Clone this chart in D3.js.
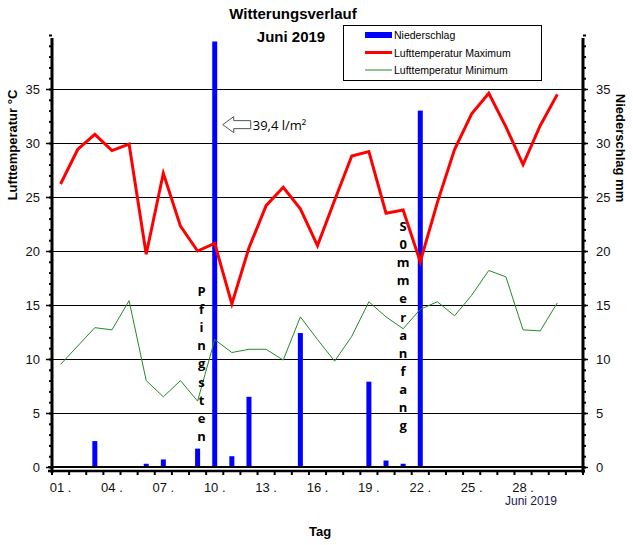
<!DOCTYPE html>
<html><head><meta charset="utf-8">
<script src="https://cdn.jsdelivr.net/npm/d3@7"></script>
<style>body{margin:0;background:#fff}svg{display:block;font-family:"Liberation Sans",Arial,sans-serif}</style>
</head><body><svg id="c" width="633" height="545"></svg>
<script>
const days = d3.range(1, 31);
const precip = [0,0,2.4,0,0,0.3,0.7,0,1.7,39.4,1.0,6.5,0,0,12.4,0,0,0,7.9,0.6,0.3,33.0,0,0,0,0,0,0,0,0];
const tMax = [26.2,29.4,30.8,29.3,29.9,19.7,27.2,22.3,20.0,20.7,15.1,20.3,24.2,25.9,23.9,20.5,24.7,28.8,29.2,23.5,23.8,19.0,24.5,29.4,32.7,34.6,31.5,28.0,31.6,34.5];
const tMin = [9.5,11.2,12.9,12.7,15.4,8.0,6.5,8.0,6.1,11.8,10.6,10.9,10.9,9.9,13.9,11.8,9.8,12.1,15.3,13.9,12.8,14.6,15.3,14.0,15.9,18.2,17.6,12.7,12.6,15.2];
const xLabelDays = [1,4,7,10,13,16,19,22,25,28];
const yTicks = [0,5,10,15,20,25,30,35];

const svg = d3.select("#c");
const L = 52, R = 583, B = 467, T = 35;
const x = d3.scaleBand().domain(d3.range(1, 32)).range([L, R]).paddingInner(0).paddingOuter(0);
const y = d3.scaleLinear().domain([0, 40]).range([B, T]);
const cx = d => x(d) + x.bandwidth() / 2;

// gridlines
svg.append("g").attr("transform", `translate(${L},0)`)
  .call(d3.axisRight(y).tickValues(yTicks.filter(v => v > 0)).tickSize(R - L + 4).tickFormat(""))
  .call(g => g.select(".domain").remove())
  .call(g => g.selectAll("line").attr("stroke", "#000").attr("stroke-width", 1));

// left axis minor ticks
svg.append("g").attr("transform", `translate(${L},0)`)
  .call(d3.axisLeft(y).tickValues(d3.range(0, 41)).tickSize(3).tickFormat(""))
  .call(g => g.select(".domain").remove())
  .call(g => g.selectAll("line").attr("stroke", "#000").attr("stroke-width", 2));
// left major
svg.append("g").attr("transform", `translate(${L},0)`)
  .call(d3.axisLeft(y).tickValues(yTicks).tickSize(6).tickPadding(6))
  .call(g => g.select(".domain").remove())
  .call(g => g.selectAll("line").attr("stroke", "#000").attr("stroke-width", 1.5))
  .call(g => g.selectAll("text").attr("font-size", 13).attr("fill", "#111").attr("font-family", "Liberation Sans, Arial"));
// right minor
svg.append("g").attr("transform", `translate(${R},0)`)
  .call(d3.axisRight(y).tickValues(d3.range(0, 41)).tickSize(3).tickFormat(""))
  .call(g => g.select(".domain").remove())
  .call(g => g.selectAll("line").attr("stroke", "#000").attr("stroke-width", 2));
svg.append("g").attr("transform", `translate(${R},0)`)
  .call(d3.axisRight(y).tickValues(yTicks).tickSize(5).tickPadding(8))
  .call(g => g.select(".domain").remove())
  .call(g => g.selectAll("line").attr("stroke", "#000").attr("stroke-width", 1.5))
  .call(g => g.selectAll("text").attr("font-size", 13).attr("fill", "#111").attr("font-family", "Liberation Sans, Arial"));

// axis lines
svg.append("line").attr("x1", L).attr("x2", L).attr("y1", T + 3).attr("y2", B + 6).attr("stroke", "#000").attr("stroke-width", 3);
svg.append("line").attr("x1", R).attr("x2", R).attr("y1", T + 3).attr("y2", B + 6).attr("stroke", "#000").attr("stroke-width", 3);

// bars
svg.append("g").selectAll("rect").data(days.filter((d, i) => precip[i] > 0)).join("rect")
  .attr("x", d => cx(d) - 2.5).attr("width", 5)
  .attr("y", d => y(precip[d - 1])).attr("height", d => B - y(precip[d - 1]))
  .attr("fill", "#0000ff");

// bottom double line
svg.append("line").attr("x1", L - 4).attr("x2", R + 2).attr("y1", B).attr("y2", B).attr("stroke", "#000").attr("stroke-width", 2);
svg.append("line").attr("x1", L - 4).attr("x2", R + 2).attr("y1", B + 4).attr("y2", B + 4).attr("stroke", "#000").attr("stroke-width", 2.5);
// x ticks at band boundaries
svg.append("g").selectAll("line").data(d3.range(1, 32).map(d => x(d)).concat([R])).join("line")
  .attr("x1", d => d).attr("x2", d => d).attr("y1", B + 4).attr("y2", B + 8)
  .attr("stroke", "#000").attr("stroke-width", 2);
// x labels
svg.append("g").selectAll("text").data(xLabelDays).join("text")
  .attr("x", d => cx(d)).attr("y", 492).attr("text-anchor", "middle")
  .attr("font-size", 13).attr("fill", "#111")
  .text(d => String(d).padStart(2, "0") + " .");
svg.append("text").attr("x", 531).attr("y", 505).attr("text-anchor", "middle")
  .attr("font-size", 12).attr("fill", "#1a1a50").text("Juni 2019");

// lines
const line = arr => d3.line().x(d => cx(d)).y(d => y(arr[d - 1]))(days);
svg.append("path").attr("d", line(tMin)).attr("fill", "none").attr("stroke", "#228b22").attr("stroke-width", 1);
svg.append("path").attr("d", line(tMax)).attr("fill", "none").attr("stroke", "#ff0000").attr("stroke-width", 3).attr("stroke-linejoin", "miter");

// annotations
const vert = (txt, xx, y0) => {
  const g = svg.append("text").attr("font-size", 13).attr("font-weight", "bold").attr("text-anchor", "middle")
    .attr("font-family", "Open Sans, Liberation Sans, sans-serif");
  [...txt].forEach((ch, i) => g.append("tspan").attr("x", xx).attr("y", y0 + i * 18.1).text(ch));
};
vert("Pfingsten", cx(9) + 4, 296);
vert("S0mmeranfang", cx(21), 231);

// arrow
const ax = cx(10) + 8, ay = y(31.7);
svg.append("path")
  .attr("d", `M${ax},${ay} L${ax + 11},${ay - 8} L${ax + 11},${ay - 4} L${ax + 28},${ay - 4} L${ax + 28},${ay + 4} L${ax + 11},${ay + 4} L${ax + 11},${ay + 8} Z`)
  .attr("fill", "#fff").attr("stroke", "#555").attr("stroke-width", 1);
svg.append("text").attr("x", ax + 30).attr("y", ay + 5).attr("font-size", 13).attr("fill", "#000")
  .attr("font-family", "Open Sans, Liberation Sans, sans-serif").text("39,4 l/m²");

// titles
svg.append("text").attr("x", 293).attr("y", 19).attr("text-anchor", "middle").attr("font-size", 15).attr("font-weight", "bold").text("Witterungsverlauf");
svg.append("text").attr("x", 291).attr("y", 42).attr("text-anchor", "middle").attr("font-size", 15).attr("font-weight", "bold").text("Juni 2019");
svg.append("text").attr("x", 320).attr("y", 536).attr("text-anchor", "middle").attr("font-size", 13).attr("font-weight", "bold").text("Tag");
svg.append("text").attr("transform", "translate(17,145) rotate(-90)").attr("text-anchor", "middle").attr("font-size", 13).attr("font-weight", "bold").text("Lufttemperatur °C");
svg.append("text").attr("transform", "translate(616,148) rotate(90)").attr("text-anchor", "middle").attr("font-size", 13).attr("font-weight", "bold").text("Niederschlag  mm");

// legend
const lg = svg.append("g");
lg.append("rect").attr("x", 343.5).attr("y", 25.5).attr("width", 198).attr("height", 55).attr("fill", "#fff").attr("stroke", "#000");
const items = [{n: "Niederschlag", t: "bar"}, {n: "Lufttemperatur Maximum", t: "max"}, {n: "Lufttemperatur Minimum", t: "min"}];
items.forEach((it, i) => {
  const yy = 35 + i * 17.5;
  if (it.t === "bar") lg.append("rect").attr("x", 365).attr("y", yy - 3).attr("width", 27).attr("height", 6).attr("fill", "#0000ff");
  else lg.append("line").attr("x1", 365).attr("x2", 392).attr("y1", yy).attr("y2", yy)
    .attr("stroke", it.t === "max" ? "#ff0000" : "#228b22").attr("stroke-width", it.t === "max" ? 3 : 1);
  lg.append("text").attr("x", 394).attr("y", yy + 4).attr("font-size", 10.5).attr("fill", "#000").text(it.n);
});
</script></body></html>
